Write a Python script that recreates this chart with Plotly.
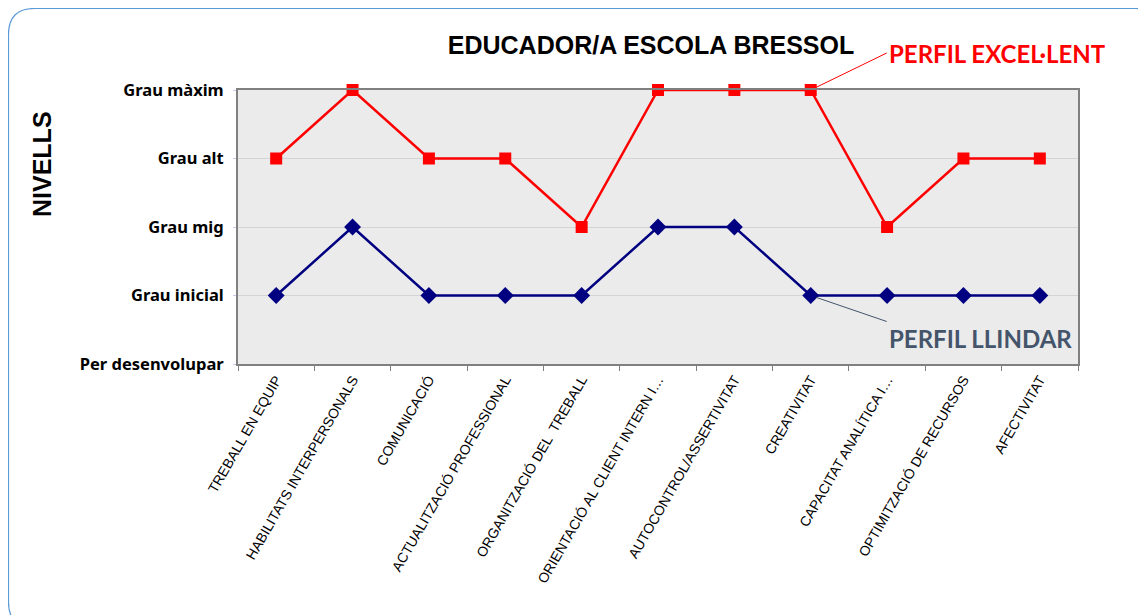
import plotly.graph_objects as go

categories = [
    "TREBALL EN EQUIP",
    "HABILITATS INTERPERSONALS",
    "COMUNICACIÓ",
    "ACTUALITZACIÓ PROFESSIONAL",
    "ORGANITZACIÓ DEL  TREBALL",
    "ORIENTACIÓ AL CLIENT INTERN I…",
    "AUTOCONTROL/ASSERTIVITAT",
    "CREATIVITAT",
    "CAPACITAT ANALÍTICA I…",
    "OPTIMITZACIÓ DE RECURSOS",
    "AFECTIVITAT",
]
perfil_excellent = [3, 4, 3, 3, 2, 4, 4, 4, 2, 3, 3]
perfil_llindar = [1, 2, 1, 1, 1, 2, 2, 1, 1, 1, 1]
level_values = [0, 1, 2, 3, 4]
level_labels = ["Per desenvolupar", "Grau inicial", "Grau mig", "Grau alt", "Grau màxim"]

OFF = 8  # page body margin
W, H = 1146, 615
ML, MT = 238 - OFF, 90 - OFF
PW, PH = 840, 274
MR = W - ML - PW
MB = H - MT - PH


def px_x(px):
    return (px - OFF - ML) / PW


def px_y(py):
    return (MT + PH - (py - OFF)) / PH


fig = go.Figure()

fig.add_trace(go.Scatter(
    x=categories, y=perfil_llindar, mode="lines+markers",
    line=dict(color="#000080", width=2.5),
    marker=dict(symbol="diamond", size=13, color="#000080"),
    name="PERFIL LLINDAR", cliponaxis=False,
))
fig.add_trace(go.Scatter(
    x=categories, y=perfil_excellent, mode="lines+markers",
    line=dict(color="#FF0000", width=2.5),
    marker=dict(symbol="square", size=12, color="#FF0000"),
    name="PERFIL EXCEL·LENT", cliponaxis=False,
))

# rounded outer frame
x0, y0, x1, y1, r = px_x(8.5), px_y(8.5), px_x(1162), px_y(628), 26
rx, ry = r / PW, r / PH
path = (f"M {x0+rx},{y0} L {x1-rx},{y0} Q {x1},{y0} {x1},{y0-ry} "
        f"L {x1},{y1+ry} Q {x1},{y1} {x1-rx},{y1} L {x0+rx},{y1} "
        f"Q {x0},{y1} {x0},{y1+ry} L {x0},{y0-ry} Q {x0},{y0} {x0+rx},{y0} Z")
fig.add_shape(type="path", path=path, xref="paper", yref="paper",
              line=dict(color="#5B9BD5", width=1.2), layer="below")

fig.add_annotation(
    x=categories[7], y=perfil_excellent[7], ax=76, ay=-37,
    text="<b>PERFIL EXCEL·LENT</b>", showarrow=True, arrowhead=0,
    arrowcolor="#FF0000", arrowwidth=1, xanchor="left", yanchor="middle",
    font=dict(family="Lato", size=24, color="#FF0000"), standoff=6,
)
fig.add_annotation(
    x=categories[7], y=perfil_llindar[7], ax=76, ay=26,
    text="<b>PERFIL LLINDAR</b>", showarrow=True, arrowhead=0,
    arrowcolor="#44546A", arrowwidth=1, xanchor="left", yanchor="top",
    font=dict(family="Lato", size=24, color="#44546A"), standoff=6,
)
fig.add_annotation(
    x=px_x(42), y=px_y(164), xref="paper", yref="paper", showarrow=False,
    xanchor="center", yanchor="middle",
    text="<b>NIVELLS</b>", textangle=-90,
    font=dict(family="Liberation Sans", size=25, color="#000000"),
)

fig.update_layout(
    width=W, height=H,
    margin=dict(l=ML, r=MR, t=MT, b=MB),
    paper_bgcolor="white", plot_bgcolor="#EBEBEB",
    showlegend=False,
    title=dict(text="<b>EDUCADOR/A ESCOLA BRESSOL</b>", x=px_x(651), xref="paper",
               xanchor="center", y=1 - (45 - OFF) / H, yref="container", yanchor="middle",
               font=dict(family="Liberation Sans", size=25, color="#000000")),
)
fig.update_xaxes(
    type="category", range=[-0.5, len(categories) - 0.5],
    tickangle=-60, tickson="boundaries", ticks="outside", ticklen=5,
    tickcolor="#808080", showgrid=False,
    showline=True, linecolor="#808080", linewidth=2, mirror=True,
    tickfont=dict(family="Liberation Sans", size=14, color="#000000"),
)
fig.update_yaxes(
    range=[0, 4], tickmode="array", tickvals=level_values, ticktext=level_labels,
    showgrid=True, gridcolor="#D4D4D4", gridwidth=1, zeroline=False,
    ticks="outside", ticklen=3, tickcolor="#C8C8F0",
    showline=True, linecolor="#808080", linewidth=2, mirror=True,
    tickfont=dict(family="Noto Sans", size=16.5, color="#000000", weight="bold"),
    ticklabelstandoff=6,
)

fig.write_html("out.html")
